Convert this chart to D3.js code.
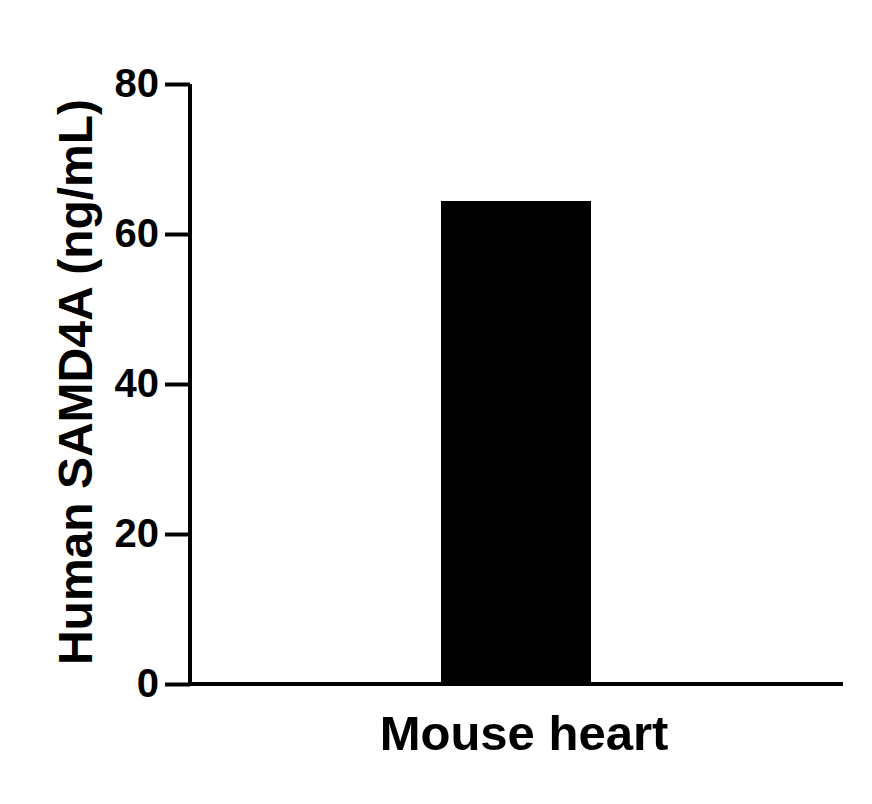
<!DOCTYPE html>
<html><head><meta charset="utf-8">
<script src="https://cdn.jsdelivr.net/npm/d3@7"></script>
<style>body{margin:0;background:#fff}</style>
</head><body><div class="canvas"></div>
<script>
const categories = ["Mouse heart"];
const values = [64.4];
const yTicks = [0, 20, 40, 60, 80];

const svg = d3.select(".canvas").append("svg")
    .attr("width", 872).attr("height", 804)
    .style("font-family", "Liberation Sans, Arial, sans-serif");

const x = d3.scaleLinear().domain([0, 1]).range([190, 843]);
const y = d3.scaleLinear().domain([0, 80]).range([684, 84]);

// bar
svg.selectAll("rect").data(values).enter().append("rect")
    .attr("x", 441).attr("width", 150)
    .attr("y", d => y(d)).attr("height", d => y(0) - y(d))
    .attr("fill", "#000");

// y axis
const yAxis = svg.append("g").attr("transform", "translate(190,0)")
    .call(d3.axisLeft(y).tickValues(yTicks).tickSize(25).tickPadding(6));
yAxis.select(".domain").attr("d", `M0,${y(80)}V${y(0)}`);
yAxis.selectAll("line, path").attr("stroke", "#000").attr("stroke-width", 4);
yAxis.selectAll("text")
    .style("font-size", "40px").style("font-weight", "bold")
    .style("font-family", "Liberation Sans, Arial, sans-serif").attr("fill", "#000");

// x axis line
svg.append("line").attr("x1", x(0) - 2).attr("x2", x(1))
    .attr("y1", y(0)).attr("y2", y(0))
    .attr("stroke", "#000").attr("stroke-width", 4);

svg.append("text").attr("x", 524).attr("y", 750).attr("text-anchor", "middle")
    .style("font-size", "49px").style("font-weight", "bold").text(categories[0]);

svg.append("text").attr("transform", "translate(92,382) rotate(-90)")
    .attr("text-anchor", "middle").style("font-size", "48px").style("font-weight", "bold")
    .text("Human SAMD4A (ng/mL)");
</script></body></html>
